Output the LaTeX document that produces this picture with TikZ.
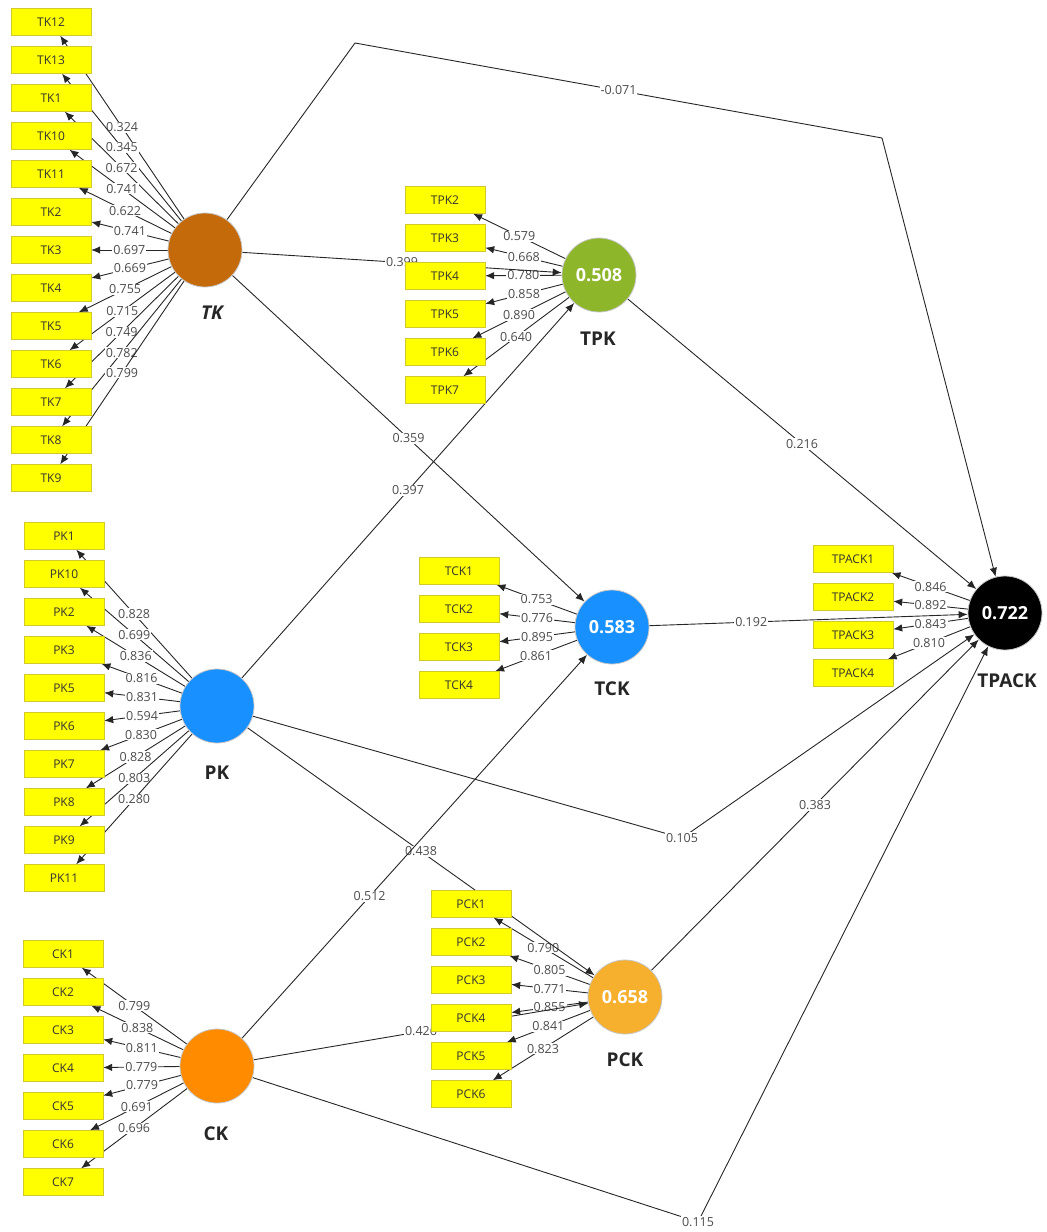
\documentclass[tikz,border=0pt]{standalone}
\usepackage{fontspec}
\setmainfont{Open Sans}
\usepackage{xcolor}
\usetikzlibrary{arrows, arrows.meta}

\definecolor{tkbrown}{RGB}{196,106,10}
\definecolor{tpkgreen}{RGB}{141,182,43}
\definecolor{plsblue}{RGB}{24,144,255}
\definecolor{ckorange}{RGB}{255,140,0}
\definecolor{pckorange}{RGB}{247,176,46}
\definecolor{indyellow}{RGB}{255,255,0}

\pgfdeclarelayer{bg}
\pgfsetlayers{bg,main}

\begin{document}
\begin{tikzpicture}[x=1pt,y=-1pt,
  ind/.style={draw=yellow!80!black, fill=indyellow, minimum width=80pt, minimum height=27pt, inner sep=0pt, text=black!80, font=\fontsize{12}{14}\selectfont},
  lv/.style={circle, draw=gray!45, line width=0.8pt, minimum size=74pt, inner sep=0pt, text=white, font=\fontsize{18}{21}\selectfont\bfseries},
  lvname/.style={text=black!85, font=\fontsize{19}{22}\selectfont\bfseries},
  arr/.style={draw=black!85, line width=0.9pt, -{Latex[length=9pt,width=7.5pt]}},
  val/.style={fill=white, inner sep=1pt, text=black!70, font=\fontsize{12.5}{14}\selectfont}]

\useasboundingbox (0,0) rectangle (1047,1232);

%latent variables
\node[lv, fill=tkbrown] (TK) at (205,250) {};
\node[lv, fill=tpkgreen] (TPK) at (599,275) {0.508};
\node[lv, fill=plsblue] (TCK) at (612,627) {0.583};
\node[lv, fill=plsblue] (PK) at (217,706) {};
\node[lv, fill=ckorange] (CK) at (217,1066) {};
\node[lv, fill=pckorange] (PCK) at (625,997) {0.658};
\node[lv, fill=black] (TPACK) at (1005,613) {0.722};

\node[lvname, font=\fontsize{19}{22}\selectfont\bfseries\itshape] (TKname) at (212,313) {TK};
\node[lvname] (TPKname) at (598,339) {TPK};
\node[lvname] (TCKname) at (612,689) {TCK};
\node[lvname] (PKname) at (217,773) {PK};
\node[lvname] (CKname) at (216,1134) {CK};
\node[lvname] (PCKname) at (625,1060) {PCK};
\node[lvname] (TPACKname) at (1007,681) {TPACK};

%TK indicators
\node[ind] (TK12) at (51,22) {TK12};
\node[ind] (TK13) at (51,60) {TK13};
\node[ind] (TK1) at (51,98) {TK1};
\node[ind] (TK10) at (51,136) {TK10};
\node[ind] (TK11) at (51,174) {TK11};
\node[ind] (TK2) at (51,212) {TK2};
\node[ind] (TK3) at (51,250) {TK3};
\node[ind] (TK4) at (51,288) {TK4};
\node[ind] (TK5) at (51,326) {TK5};
\node[ind] (TK6) at (51,364) {TK6};
\node[ind] (TK7) at (51,402) {TK7};
\node[ind] (TK8) at (51,440) {TK8};
\node[ind] (TK9) at (51,478) {TK9};

%TPK indicators
\node[ind] (TPK2) at (445,200) {TPK2};
\node[ind] (TPK3) at (445,238) {TPK3};
\node[ind] (TPK4) at (445,276) {TPK4};
\node[ind] (TPK5) at (445,314) {TPK5};
\node[ind] (TPK6) at (445,352) {TPK6};
\node[ind] (TPK7) at (445,390) {TPK7};

%TCK indicators
\node[ind] (TCK1) at (459,571) {TCK1};
\node[ind] (TCK2) at (459,609) {TCK2};
\node[ind] (TCK3) at (459,647) {TCK3};
\node[ind] (TCK4) at (459,685) {TCK4};

%TPACK indicators
\node[ind] (TPACK1) at (853,559) {TPACK1};
\node[ind] (TPACK2) at (853,597) {TPACK2};
\node[ind] (TPACK3) at (853,635) {TPACK3};
\node[ind] (TPACK4) at (853,673) {TPACK4};

%PK indicators
\node[ind] (PK1) at (64,536) {PK1};
\node[ind] (PK10) at (64,574) {PK10};
\node[ind] (PK2) at (64,612) {PK2};
\node[ind] (PK3) at (64,650) {PK3};
\node[ind] (PK5) at (64,688) {PK5};
\node[ind] (PK6) at (64,726) {PK6};
\node[ind] (PK7) at (64,764) {PK7};
\node[ind] (PK8) at (64,802) {PK8};
\node[ind] (PK9) at (64,840) {PK9};
\node[ind] (PK11) at (64,878) {PK11};

%CK indicators
\node[ind] (CK1) at (63,954) {CK1};
\node[ind] (CK2) at (63,992) {CK2};
\node[ind] (CK3) at (63,1030) {CK3};
\node[ind] (CK4) at (63,1068) {CK4};
\node[ind] (CK5) at (63,1106) {CK5};
\node[ind] (CK6) at (63,1144) {CK6};
\node[ind] (CK7) at (63,1182) {CK7};

%PCK indicators
\node[ind] (PCK1) at (471,904) {PCK1};
\node[ind] (PCK2) at (471,942) {PCK2};
\node[ind] (PCK3) at (471,980) {PCK3};
\node[ind] (PCK4) at (471,1018) {PCK4};
\node[ind] (PCK5) at (471,1056) {PCK5};
\node[ind] (PCK6) at (471,1094) {PCK6};

%bends of the long paths
\coordinate (tkup) at (355,43);
\coordinate (tkright) at (882,138);
\node[val] (b105) at (682,838) {0.105};
\node[val] (b115) at (698,1222) {0.115};

\begin{pgfonlayer}{bg}
%outer loadings
\draw[arr] (TK) -- (TK12) node[val, midway] {0.324};
\draw[arr] (TK) -- (TK13) node[val, midway] {0.345};
\draw[arr] (TK) -- (TK1) node[val, midway] {0.672};
\draw[arr] (TK) -- (TK10) node[val, midway] {0.741};
\draw[arr] (TK) -- (TK11) node[val, midway] {0.622};
\draw[arr] (TK) -- (TK2) node[val, midway] {0.741};
\draw[arr] (TK) -- (TK3) node[val, midway] {0.697};
\draw[arr] (TK) -- (TK4) node[val, midway] {0.669};
\draw[arr] (TK) -- (TK5) node[val, midway] {0.755};
\draw[arr] (TK) -- (TK6) node[val, midway] {0.715};
\draw[arr] (TK) -- (TK7) node[val, midway] {0.749};
\draw[arr] (TK) -- (TK8) node[val, midway] {0.782};
\draw[arr] (TK) -- (TK9) node[val, midway] {0.799};

\draw[arr] (TPK) -- (TPK2) node[val, midway] {0.579};
\draw[arr] (TPK) -- (TPK3) node[val, midway] {0.668};
\draw[arr] (TPK) -- (TPK4) node[val, midway] {0.780};
\draw[arr] (TPK) -- (TPK5) node[val, midway] {0.858};
\draw[arr] (TPK) -- (TPK6) node[val, midway] {0.890};
\draw[arr] (TPK) -- (TPK7) node[val, midway] {0.640};

\draw[arr] (TCK) -- (TCK1) node[val, midway] {0.753};
\draw[arr] (TCK) -- (TCK2) node[val, midway] {0.776};
\draw[arr] (TCK) -- (TCK3) node[val, midway] {0.895};
\draw[arr] (TCK) -- (TCK4) node[val, midway] {0.861};

\draw[arr] (TPACK) -- (TPACK1) node[val, midway] {0.846};
\draw[arr] (TPACK) -- (TPACK2) node[val, midway] {0.892};
\draw[arr] (TPACK) -- (TPACK3) node[val, midway] {0.843};
\draw[arr] (TPACK) -- (TPACK4) node[val, midway] {0.810};

\draw[arr] (PK) -- (PK1) node[val, midway] {0.828};
\draw[arr] (PK) -- (PK10) node[val, midway] {0.699};
\draw[arr] (PK) -- (PK2) node[val, midway] {0.836};
\draw[arr] (PK) -- (PK3) node[val, midway] {0.816};
\draw[arr] (PK) -- (PK5) node[val, midway] {0.831};
\draw[arr] (PK) -- (PK6) node[val, midway] {0.594};
\draw[arr] (PK) -- (PK7) node[val, midway] {0.830};
\draw[arr] (PK) -- (PK8) node[val, midway] {0.828};
\draw[arr] (PK) -- (PK9) node[val, midway] {0.803};
\draw[arr] (PK) -- (PK11) node[val, midway] {0.280};

\draw[arr] (CK) -- (CK1) node[val, midway] {0.799};
\draw[arr] (CK) -- (CK2) node[val, midway] {0.838};
\draw[arr] (CK) -- (CK3) node[val, midway] {0.811};
\draw[arr] (CK) -- (CK4) node[val, midway] {0.779};
\draw[arr] (CK) -- (CK5) node[val, midway] {0.779};
\draw[arr] (CK) -- (CK6) node[val, midway] {0.691};
\draw[arr] (CK) -- (CK7) node[val, midway] {0.696};

\draw[arr] (PCK) -- (PCK1) node[val, midway] {0.790};
\draw[arr] (PCK) -- (PCK2) node[val, midway] {0.805};
\draw[arr] (PCK) -- (PCK3) node[val, midway] {0.771};
\draw[arr] (PCK) -- (PCK4) node[val, midway] {0.855};
\draw[arr] (PCK) -- (PCK5) node[val, midway] {0.841};
\draw[arr] (PCK) -- (PCK6) node[val, midway] {0.823};

%path coefficients
\draw[arr] (TK) -- (TPK) node[val, midway] {0.399};
\draw[arr] (TK) -- (TCK) node[val, midway] {0.359};
\draw[arr] (TK) -- (tkup) -- (tkright) node[val, midway] {-0.071} -- (TPACK);
\draw[arr] (PK) -- (TPK) node[val, midway] {0.397};
\draw[arr] (PK) -- (PCK) node[val, midway] {0.438};
\draw[arr] (PK) -- (b105.center) -- (TPACK);
\draw[arr] (CK) -- (TCK) node[val, pos=0.37] {0.512};
\draw[arr] (CK) -- (PCK) node[val, midway] {0.426};
\draw[arr] (CK) -- (b115.center) -- (TPACK);
\draw[arr] (TPK) -- (TPACK) node[val, midway] {0.216};
\draw[arr] (TCK) -- (TPACK) node[val, pos=0.32] {0.192};
\draw[arr] (PCK) -- (TPACK) node[val, midway] {0.383};
\end{pgfonlayer}

\end{tikzpicture}
\end{document}
